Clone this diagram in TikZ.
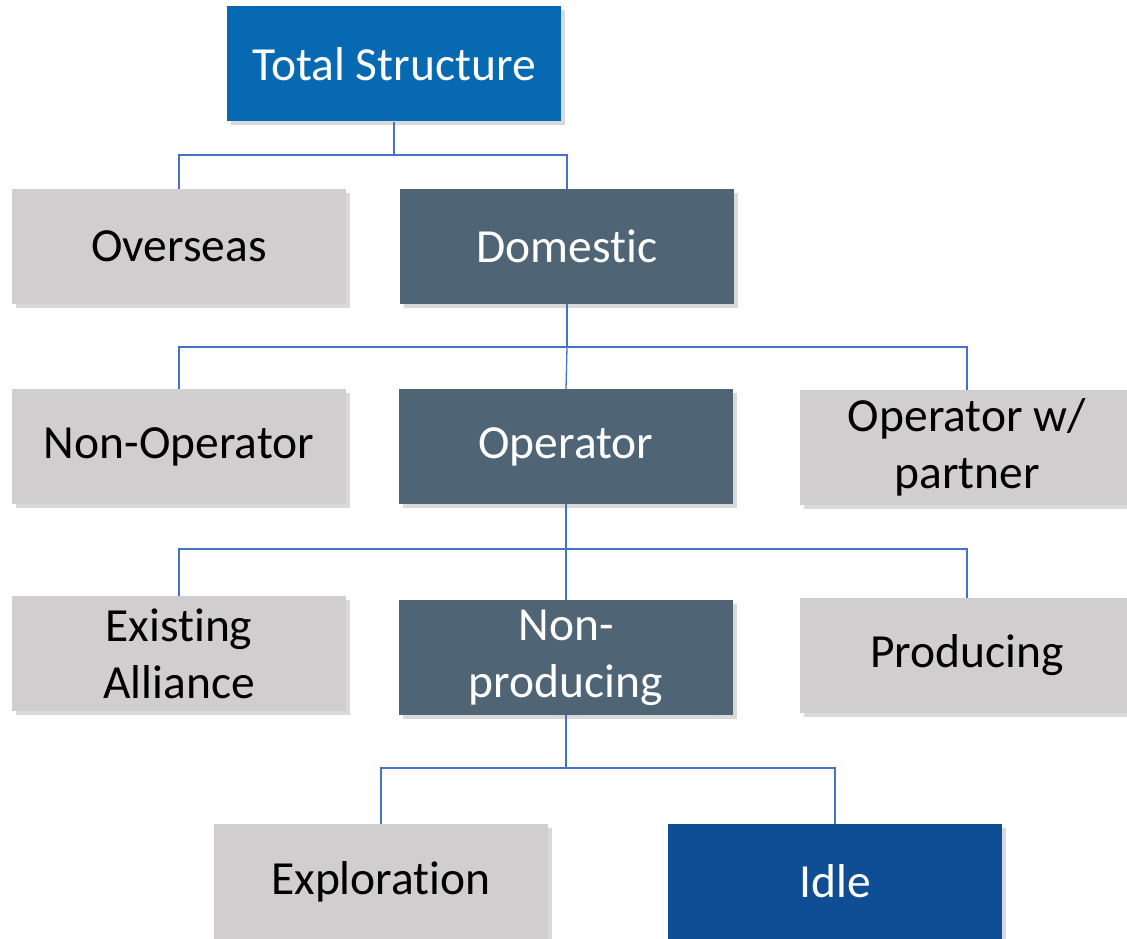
\documentclass[tikz,border=0pt]{standalone}
\usepackage{fontspec}
\setmainfont[Ligatures=NoCommon]{Carlito}
\usetikzlibrary{shadows}
\definecolor{topblue}{HTML}{0669B2}
\definecolor{slate}{HTML}{4F6475}
\definecolor{lgray}{HTML}{D0CECE}
\definecolor{idleblue}{HTML}{0F4D95}
\definecolor{linkblue}{HTML}{4472C4}
\tikzset{
  box/.style={rectangle, minimum width=334pt, minimum height=115pt, inner sep=0pt,
    align=center, font=\fontsize{47.5}{57}\selectfont,
    drop shadow={opacity=0.3, shadow xshift=4pt, shadow yshift=-4pt}},
  graybox/.style={box, fill=lgray, text=black},
  darkbox/.style={box, fill=slate, text=white},
  bluebox/.style={box, fill=topblue, text=white},
  idlebox/.style={box, fill=idleblue, text=white},
  link/.style={draw=linkblue, line width=1.3pt}
}
\begin{document}
\begin{tikzpicture}[x=1pt,y=-1pt]
\useasboundingbox (0,0) rectangle (1127,939);
\node[bluebox] (total) at (394,64) {Total Structure};
\node[graybox] (overseas) at (179,246.5) {Overseas};
\node[darkbox] (domestic) at (567,246.5) {Domestic};
\node[graybox] (nonop) at (179,446.5) {Non-Operator};
\node[darkbox] (operator) at (566,446.5) {Operator};
\node[graybox] (partner) at (967,447.5) {Operator w/\\partner};
\node[graybox] (existing) at (179,653.5) {Existing\\Alliance};
\node[darkbox] (nonprod) at (566,657.5) {Non-\\producing};
\node[graybox] (producing) at (967,655.5) {Producing};
\node[graybox] (exploration) at (381,881.5) {Exploration};
\node[idlebox] (idle) at (835,881.5) {Idle};
\coordinate (j1) at (394,155);
\coordinate (j2) at (567,347);
\coordinate (j3) at (566,549);
\coordinate (j4) at (566,768);
\draw[link] (total.south) -- (j1) -| (overseas.north);
\draw[link] (j1) -| (domestic.north);
\draw[link] (domestic.south) -- (j2) -| (nonop.north);
\draw[link] (j2) -| (partner.north);
\draw[link] (j2) -- (operator.north);
\draw[link] (operator.south) -- (j3) -| (existing.north);
\draw[link] (j3) -| (producing.north);
\draw[link] (j3) -- (nonprod.north);
\draw[link] (nonprod.south) -- (j4) -| (exploration.north);
\draw[link] (j4) -| (idle.north);
\end{tikzpicture}
\end{document}
